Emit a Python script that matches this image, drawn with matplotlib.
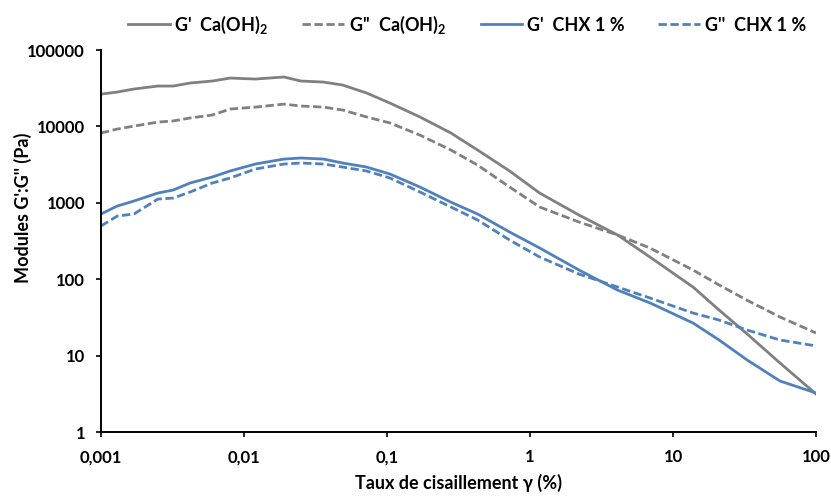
import numpy as np
import matplotlib
matplotlib.use("Agg")
import matplotlib.pyplot as plt

# Taux de cisaillement (%)
gamma = [0.001, 0.0013, 0.0017, 0.0025, 0.0032, 0.0042, 0.006, 0.008, 0.012, 0.019,
         0.025, 0.036, 0.049, 0.072, 0.105, 0.17, 0.28, 0.43, 0.72, 1.17,
         2.2, 4.1, 6.9, 13.8, 21, 33, 56, 100]

g1_caoh = [26500, 28200, 30900, 33800, 33800, 37000, 39300, 43000, 41700, 44400,
           39300, 38100, 34800, 27400, 20200, 13300, 8200, 4910, 2610, 1340,
           692, 379, 195, 79, 39.5, 19.2, 8.0, 3.14]
g2_caoh = [8200, 9250, 10100, 11400, 11800, 12900, 14100, 16900, 17900, 19600,
           18500, 17900, 16400, 13300, 11100, 7700, 4910, 3120, 1610, 881,
           561, 379, 256, 132, 84, 53, 32, 19.8]
g1_chx = [714, 908, 1056, 1343, 1471, 1817, 2177, 2610, 3220, 3740,
          3860, 3740, 3320, 2940, 2380, 1610, 1020, 714, 415, 256,
          132, 72, 49, 26.7, 16, 8.76, 4.65, 3.24]
g2_chx = [497, 672, 714, 1121, 1156, 1385, 1817, 2113, 2770, 3220,
          3320, 3220, 2940, 2610, 2113, 1385, 881, 596, 326, 195,
          117, 79, 56.8, 36.1, 29.2, 21.6, 16, 13.4]

x_ticks = [0.001, 0.01, 0.1, 1, 10, 100]
x_labels = ["0,001", "0,01", "0,1", "1", "10", "100"]
y_ticks = [1, 10, 100, 1000, 10000, 100000]
y_labels = ["1", "10", "100", "1000", "10000", "100000"]

plt.rcParams['font.family'] = ['Lato', 'DejaVu Sans']
plt.rcParams['font.weight'] = 'bold'
plt.rcParams['mathtext.fontset'] = 'custom'
plt.rcParams['mathtext.rm'] = 'Lato:bold'
plt.rcParams['mathtext.default'] = 'rm'

gris = '#808080'
bleu = '#4F81BD'
tirets = (3, 1.3)

fig = plt.figure(figsize=(8.31, 4.98), dpi=100)
ax = fig.add_axes([0.1215, 0.1325, 0.8605, 0.767])

ax.plot(gamma, g1_caoh, color=gris, lw=2, label="G'  Ca(OH)$_2$")
ax.plot(gamma, g2_caoh, color=gris, lw=2, ls=(0, tirets), label="G''  Ca(OH)$_2$")
ax.plot(gamma, g1_chx, color=bleu, lw=2, label="G'  CHX 1 %")
ax.plot(gamma, g2_chx, color=bleu, lw=2, ls=(0, tirets), label="G''  CHX 1 %")

ax.set_xscale('log')
ax.set_yscale('log')
ax.set_xlim(0.001, 100)
ax.set_ylim(1, 100000)
ax.set_xticks(x_ticks)
ax.set_xticklabels(x_labels)
ax.set_yticks(y_ticks)
ax.set_yticklabels(y_labels)
ax.minorticks_off()
ax.tick_params(direction='out', length=3.5, width=1.2, labelsize=12)
ax.tick_params(axis='y', pad=8)
ax.tick_params(axis='x', pad=9)

for s in ['top', 'right']:
    ax.spines[s].set_visible(False)
for s in ['left', 'bottom']:
    ax.spines[s].set_linewidth(1.4)

ax.set_xlabel("Taux de cisaillement γ (%)", fontsize=13, fontweight='bold', labelpad=6)
ax.set_ylabel("Modules G':G'' (Pa)", fontsize=13, fontweight='bold')
ax.yaxis.set_label_coords(-0.097, 0.586)

fig.legend(loc='upper center', bbox_to_anchor=(0.562, 1.005), ncol=4, frameon=False,
           fontsize=13, handlelength=2.3, columnspacing=1.9, handletextpad=0.25)

fig.savefig("out.png", dpi=100)
